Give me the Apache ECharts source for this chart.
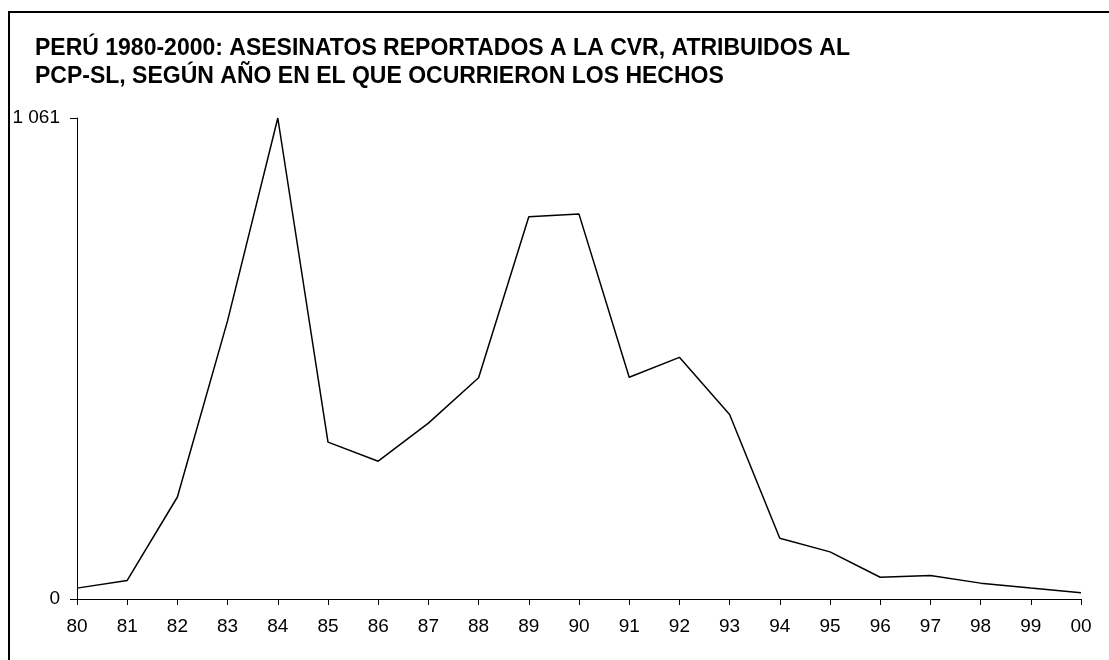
<!DOCTYPE html>
<html>
<head>
<meta charset="utf-8">
<script src="https://cdn.jsdelivr.net/npm/echarts@6/dist/echarts.min.js"></script>
<style>
html,body{margin:0;padding:0;background:#fff;}
#chart{width:1109px;height:660px;}
</style>
</head>
<body>
<div id="chart"></div>
<script>
// años (eje x)
var years = ['80','81','82','83','84','85','86','87','88','89','90','91','92','93','94','95','96','97','98','99','00'];
// asesinatos atribuidos al PCP-SL
var asesinatos = [24, 41, 225, 614, 1061, 346, 304, 388, 488, 843, 849, 489, 533, 407, 134, 104, 48, 52, 35, 24, 14];
// eje y: solo 0 y el maximo
var yTicks = [0, 1061];
var yTickLabels = ['0', '1 061'];

var titulo = 'PERÚ 1980-2000: ASESINATOS REPORTADOS A LA CVR, ATRIBUIDOS AL\nPCP-SL, SEGÚN AÑO EN EL QUE OCURRIERON LOS HECHOS';

var myChart = echarts.init(document.getElementById('chart'));
var option = {
	animation: false,
	backgroundColor: '#fff',
	title: {
		text: titulo,
		left: 35,
		top: 35,
		padding: 0,
		textStyle: {
			fontFamily: 'Liberation Sans',
			fontSize: 23,
			fontWeight: 'bold',
			color: '#000',
			lineHeight: 28
		}
	},
	graphic: [{
		type: 'rect',
		shape: {x: 9, y: 12, width: 1300, height: 900},
		style: {fill: 'none', stroke: '#000', lineWidth: 2},
		silent: true
	}],
	grid: {
		left: 77,
		right: 28,
		top: 118,
		bottom: 61,
		containLabel: false
	},
	xAxis: {
		type: 'category',
		boundaryGap: false,
		data: years,
		axisLine: {lineStyle: {color: '#000', width: 1}},
		axisTick: {length: 6, lineStyle: {color: '#000'}},
		axisLabel: {
			color: '#000',
			fontFamily: 'Liberation Sans',
			fontSize: 19,
			margin: 18
		},
		splitLine: {show: false}
	},
	yAxis: {
		type: 'value',
		min: yTicks[0],
		max: yTicks[1],
		interval: yTicks[1] - yTicks[0],
		axisLine: {show: true, lineStyle: {color: '#000', width: 1}},
		axisTick: {show: true, length: 7, lineStyle: {color: '#000'}},
		axisLabel: {
			color: '#000',
			fontFamily: 'Liberation Sans',
			fontSize: 19,
			margin: 17,
			formatter: function (v) {
				var i = yTicks.indexOf(v);
				return i >= 0 ? yTickLabels[i] : '';
			}
		},
		splitLine: {show: false}
	},
	series: [{
		name: 'Asesinatos',
		type: 'line',
		data: asesinatos,
		symbol: 'none',
		lineStyle: {color: '#000', width: 1.5}
	}]
};
myChart.setOption(option);
</script>
</body>
</html>
